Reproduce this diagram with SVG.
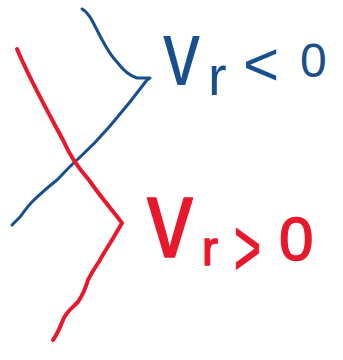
<svg xmlns="http://www.w3.org/2000/svg" width="343" height="360" viewBox="0 0 343 360">
<style>
.bl{fill:none;stroke:#17508c;stroke-width:3;stroke-linecap:round;stroke-linejoin:round}
.rd{fill:none;stroke:#e8192c;stroke-width:4;stroke-linecap:round;stroke-linejoin:round}
.bt{fill:#17508c;font-family:"Liberation Sans",Arial,sans-serif}
.rt{fill:#e8192c;stroke:#e8192c;stroke-width:1.5;stroke-linejoin:round;font-family:"Liberation Sans",Arial,sans-serif}
</style>
<rect width="343" height="360" fill="#fff"/>
<g id="connectors">
<path id="blue-curve" class="bl" d="M82,9 C88,12 92,20 97,30 C104,44 110,55 117,62 C123,70 130,76 137,78 L150,78 L147,80 C135,96 122,112 110,126 C98,140 88,150 77,160 C68,168 62,175 57,180 C47,188 39,195 33,201 C27,207 23,213 20,217 L12,225"/>
<path id="red-line" class="rd" d="M17,49 C30,80 48,112 63,140 C70,156 80,170 89,180 C100,196 112,210 122,223 L112,240 C106,250 102,256 100,260 C95,268 92,272 88,280 C85,290 82,296 78,302 C72,308 66,312 63,320 C59,330 56,336 53,340"/>
</g>
<g id="label-neg">
<text class="bt" x="163" y="85" font-size="92" textLength="37" lengthAdjust="spacingAndGlyphs">v</text>
<text class="bt" x="208" y="95" font-size="56">r</text>
<text class="bt" x="243" y="85" font-size="62">&lt;</text>
<text class="bt" x="300" y="77" font-size="48">0</text>
</g>
<g id="label-pos">
<text class="rt" x="147" y="257" font-size="112" textLength="46" lengthAdjust="spacingAndGlyphs">v</text>
<text class="rt" x="202" y="265" font-size="48">r</text>
<text class="rt" x="234" y="275" font-size="80" textLength="27" lengthAdjust="spacingAndGlyphs">&gt;</text>
<text class="rt" x="279" y="260" font-size="62">0</text>
</g>
</svg>
